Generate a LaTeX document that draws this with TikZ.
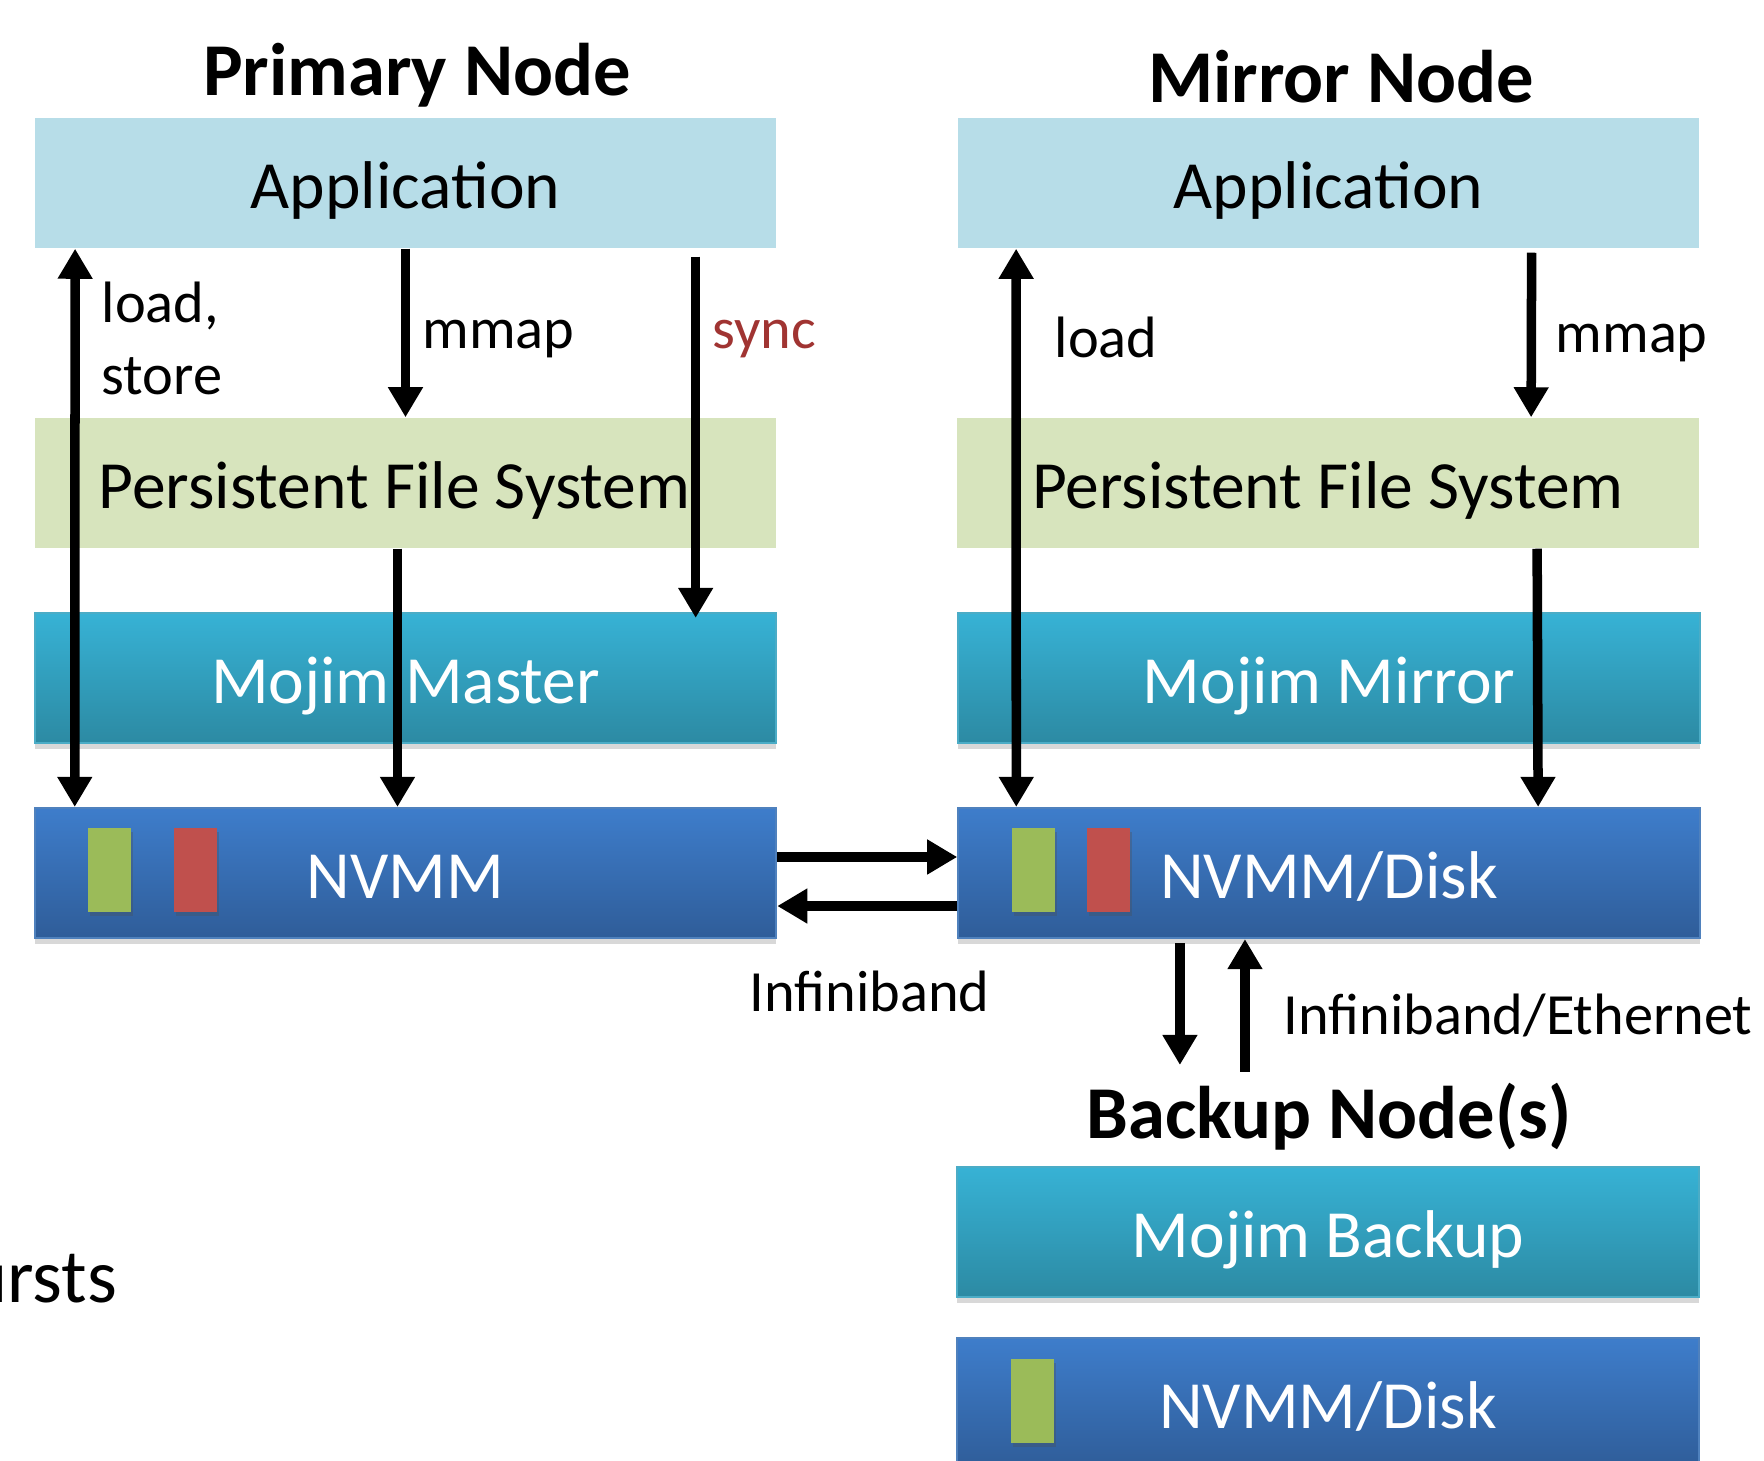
\documentclass[tikz,border=0pt]{standalone}
\usepackage{fontspec}
\setmainfont{Carlito}
\usetikzlibrary{arrows.meta,positioning,calc,shadows}
\definecolor{appblue}{RGB}{183,221,232}
\definecolor{pfsgreen}{RGB}{215,228,189}
\definecolor{mojtop}{RGB}{55,178,213}
\definecolor{mojbot}{RGB}{44,138,163}
\definecolor{mojedge}{RGB}{75,172,198}
\definecolor{nvtop}{RGB}{62,125,203}
\definecolor{nvbot}{RGB}{47,93,153}
\definecolor{nvedge}{RGB}{79,129,189}
\definecolor{bargreen}{RGB}{155,187,89}
\definecolor{barred}{RGB}{192,80,77}
\definecolor{syncred}{RGB}{160,52,50}

\begin{document}
\begin{tikzpicture}[x=0.01cm,y=-0.01cm,
  >={Triangle[length=0.3cm,width=0.33cm]},
  layer/.style={minimum width=7.41cm,minimum height=1.3cm,inner sep=0pt,text height=0.6cm,text depth=0.1cm,
    font=\fontsize{19.2}{22}\selectfont},
  flatbox/.style={layer,fill=#1},
  mojbox/.style={layer,text=white,top color=mojtop,bottom color=mojbot,draw=mojedge,line width=0.6pt,
    drop shadow={shadow xshift=0pt,shadow yshift=-0.06cm,opacity=0.22,fill=black!70}},
  nvbox/.style={layer,text=white,top color=nvtop,bottom color=nvbot,draw=nvedge,line width=0.6pt,
    drop shadow={shadow xshift=0pt,shadow yshift=-0.06cm,opacity=0.22,fill=black!70}},
  bar/.style={minimum width=0.43cm,minimum height=0.84cm,inner sep=0pt,fill=#1,anchor=north west,
    drop shadow={shadow xshift=0.02cm,shadow yshift=-0.04cm,opacity=0.3,fill=black!70}},
  title/.style={inner sep=0pt,anchor=base,font=\fontsize{21.2}{25}\selectfont\bfseries},
  lbl/.style={inner sep=0pt,anchor=base west,font=\fontsize{16.6}{20.2}\selectfont},
  arr/.style={line width=0.095cm}]
\useasboundingbox (0,0) rectangle (1764,1461);
% titles
\node[title] (tP) at (417,96) {Primary Node};
\node[title] (tM) at (1341,103) {Mirror Node};
\node[title] (tB) at (1329,1138) {Backup Node(s)};
% primary node stack
\node[flatbox=appblue] (appP) at (405.5,183) {Application};
\node[flatbox=pfsgreen] (pfsP) at (405.5,483) {Persistent File System\hspace*{0.22cm}};
\node[mojbox] (mojP) at (405.5,678) {Mojim Master};
\node[nvbox] (nvP) at (405.5,873) {NVMM};
\node[bar=bargreen] (gP) at ([xshift=0.54cm,yshift=-0.2cm]nvP.north west) {};
\node[bar=barred] (rP) at ([xshift=1.39cm,yshift=-0.2cm]nvP.north west) {};
% mirror node stack
\node[flatbox=appblue] (appM) at (1328.5,183) {Application};
\node[flatbox=pfsgreen] (pfsM) at (1328,483) {Persistent File System};
\node[mojbox] (mojM) at (1329,678) {Mojim Mirror};
\node[nvbox] (nvM) at (1329,873) {NVMM/Disk};
\node[bar=bargreen] (gM) at ([xshift=0.54cm,yshift=-0.2cm]nvM.north west) {};
\node[bar=barred] (rM) at ([xshift=1.29cm,yshift=-0.2cm]nvM.north west) {};
% backup node(s)
\node[mojbox] (mojB) at (1328,1232) {Mojim Backup};
\node[nvbox] (nvB) at (1328,1403) {NVMM/Disk};
\node[bar=bargreen] (gB) at ([xshift=0.54cm,yshift=-0.21cm]nvB.north west) {};
% primary arrows
\draw[arr,<->] ([xshift=0.41cm]appP.south west) -- ([xshift=0.41cm]nvP.north west);
\draw[arr,->] (appP.south) -- (pfsP.north);
\draw[arr,->] ([xshift=2.9cm,yshift=-0.08cm]appP.south) -- ([xshift=2.9cm,yshift=-0.06cm]mojP.north);
\draw[arr,->] ([xshift=-0.08cm]pfsP.south) -- ([xshift=-0.08cm]nvP.north);
\node[lbl,align=left] (lsP) at (101,394) {load,\\store};
\node[lbl] (mmP) at (422,349) {mmap};
\node[lbl,text=syncred] (syP) at (712,349) {sync};
% mirror arrows
\draw[arr,<->] ([xshift=0.59cm]appM.south west) -- ([xshift=0.59cm]nvM.north west);
\draw[arr,->] ([xshift=2.03cm,yshift=-0.04cm]appM.south) -- ([xshift=2.03cm]pfsM.north);
\draw[arr,->] ([xshift=2.09cm]pfsM.south) -- ([xshift=2.09cm]nvM.north);
\node[lbl] (ldM) at (1054,358) {load};
\node[lbl] (mmM) at (1555,353) {mmap};
% infiniband links
\draw[arr,->] ([yshift=0.16cm]nvP.east) -- ([yshift=0.16cm]nvM.west);
\draw[arr,->] ([yshift=-0.33cm]nvM.west) -- ([yshift=-0.33cm]nvP.east);
\node[lbl] (ib) at (749,1011) {Infiniband};
\draw[arr,->] ([xshift=-1.49cm,yshift=-0.04cm]nvM.south) -- ([xshift=-1.49cm,yshift=0.17cm]tB.north);
\draw[arr,->] ([xshift=-0.84cm,yshift=0.1cm]tB.north) -- ([xshift=-0.84cm]nvM.south);
\node[lbl] (ibe) at (1283,1034) {Infiniband/Ethernet};
% cut-off slide text
\node[inner sep=0pt,anchor=base east,font=\fontsize{21.7}{26}\selectfont] (ursts) at (118,1302) {ursts};
\end{tikzpicture}
\end{document}
